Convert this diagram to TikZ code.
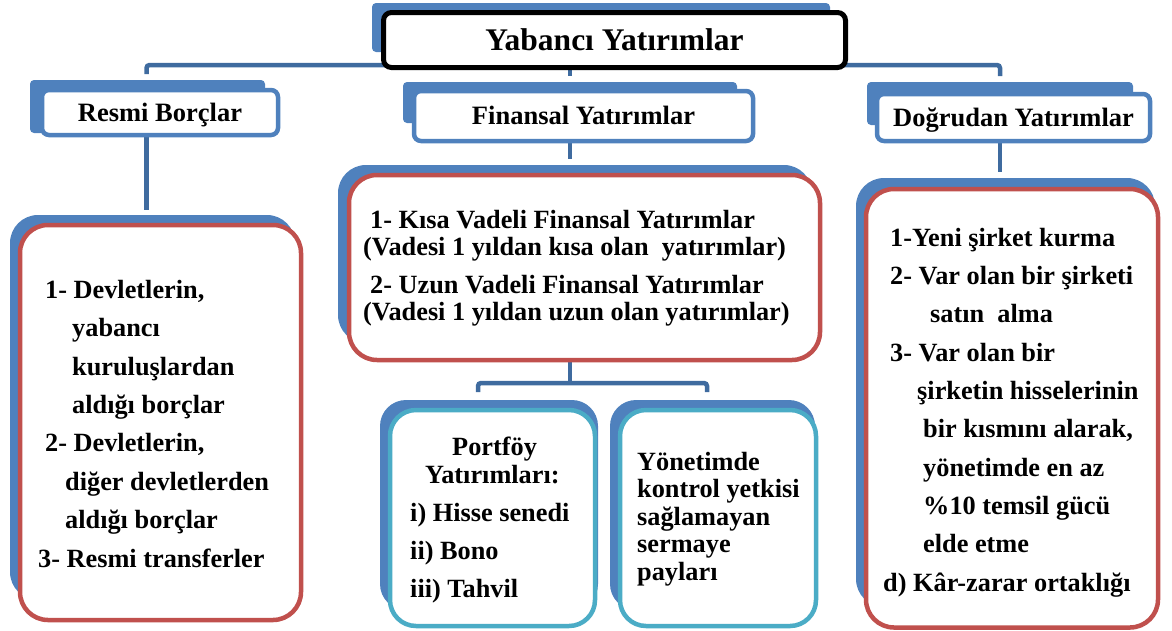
\documentclass[tikz,border=0pt]{standalone}
\usepackage{fontspec}
\setmainfont{Liberation Serif}
\definecolor{bandblue}{HTML}{4F81BD}
\definecolor{connblue}{HTML}{3F6B9F}
\definecolor{redb}{HTML}{C0504D}
\definecolor{cyanb}{HTML}{4BACC6}
\tikzset{
  conn/.style={draw=connblue, line width=4.5pt, rounded corners=3pt},
  bandbig/.style={fill=bandblue, draw=none, rounded corners=28pt, inner sep=0pt, outer sep=0pt},
  bandsmall/.style={fill=bandblue, draw=none, rounded corners=4pt, inner sep=0pt, outer sep=0pt},
  hdrbox/.style={draw=bandblue, fill=white, line width=4.5pt, rounded corners=7pt, inner sep=0pt, outer sep=0pt,
    font=\fontsize{26.5}{30}\selectfont\bfseries, text height=23.6pt, text depth=5.8pt},
  titlebox/.style={draw=black, fill=white, line width=5pt, rounded corners=8pt, inner sep=0pt, outer sep=0pt,
    font=\fontsize{31.5}{35}\selectfont\bfseries, text height=28pt, text depth=6.9pt},
  redbox/.style={draw=redb, fill=white, line width=4.5pt, rounded corners=28pt, inner sep=0pt, outer sep=0pt},
  cyanbox/.style={draw=cyanb, fill=white, line width=4.5pt, rounded corners=26pt, inner sep=0pt, outer sep=0pt},
  bodytext/.style={anchor=base west, align=left, inner sep=0pt, font=\fontsize{26.3}{#1}\selectfont\bfseries},
}
\begin{document}
\begin{tikzpicture}[x=1pt,y=-1pt]
\useasboundingbox (0,0) rectangle (1172,630);
% attachment coordinates
\coordinate (rbTop) at (146.5,74);
\coordinate (dyTop) at (1000,76);
\coordinate (fhTop) at (570,76);
\coordinate (busY) at (0,65);
\coordinate (lbTop) at (146.5,210);
\coordinate (fbTop) at (570,159);
\coordinate (dbTop) at (1000,172);
\coordinate (busB) at (570,383);
\coordinate (pfTop) at (478,392);
\coordinate (ymTop) at (707,392);
% ---------- backings ----------
\node[bandsmall, minimum width=458pt, minimum height=49pt] (tB) at (601,27.5) {};
\node[bandsmall, minimum width=235pt, minimum height=53pt] (rbB) at (147.5,106.5) {};
\node[bandsmall, minimum width=334pt, minimum height=41pt] (fhB) at (570,102.5) {};
\node[bandsmall, minimum width=266pt, minimum height=43pt] (dyB) at (1000,103.5) {};
\node[bandbig, minimum width=285pt, minimum height=385pt] (lbB) at (152.5,407.5) {};
\node[bandbig, minimum width=474pt, minimum height=178pt] (fbB) at (575,254) {};
\node[bandbig, rounded corners=26pt, minimum width=218pt, minimum height=210pt] (pfB) at (489,505) {};
\node[bandbig, rounded corners=26pt, minimum width=205pt, minimum height=210pt] (ymB) at (712.5,505) {};
\node[bandbig, minimum width=299pt, minimum height=429pt] (dbB) at (1005.5,392.5) {};
% ---------- connectors ----------
\draw[conn] (rbTop) |- (busY -| dyTop) -- (dyTop);
\draw[conn] (tB.south -| fhTop) -- (fhTop);
\draw[conn] (rbTop |- rbB.south) -- (lbTop);
\draw[conn] (fhTop |- fhB.south) -- (fbTop);
\draw[conn] (dyTop |- dyB.south) -- (dbTop);
\draw[conn] (fhTop |- fbB.south) -- (busB);
\draw[conn] (pfTop) |- (busB) -| (ymTop);
% ---------- front boxes ----------
\node[titlebox, minimum width=462pt, minimum height=55pt] (title) at (614.5,40) {Yabancı Yatırımlar};
\node[hdrbox, minimum width=236pt, minimum height=45pt] (rb) at (160,112.5) {Resmi Borçlar};
\node[hdrbox, minimum width=339pt, minimum height=50pt] (fh) at (583.5,116) {Finansal Yatırımlar};
\node[hdrbox, minimum width=273pt, minimum height=47pt] (dy) at (1013.5,117.5) {Doğrudan Yatırımlar};
\node[redbox, minimum width=281pt, minimum height=395pt] (lb) at (160.5,422.5) {};
\node[redbox, minimum width=471pt, minimum height=185pt] (fb) at (584.5,267.5) {};
\node[cyanbox, minimum width=205pt, minimum height=216pt] (pf) at (492.5,518) {};
\node[cyanbox, minimum width=196pt, minimum height=216pt] (ym) at (718,518) {};
\node[redbox, minimum width=292pt, minimum height=438.5pt] (db) at (1012,408.25) {};
% ---------- texts (base anchor = last line baseline) ----------
\node[bodytext=38.4pt] (lbT) at (38,567) {%
\hspace*{7pt}1- Devletlerin,\\
\hspace*{34pt}yabancı\\
\hspace*{34pt}kuruluşlardan\\
\hspace*{34pt}aldığı borçlar\\
\hspace*{7pt}2- Devletlerin,\\
\hspace*{27pt}diğer devletlerden\\
\hspace*{27pt}aldığı borçlar\\
3- Resmi transferler};
\node[bodytext=27pt] (fbT) at (363,320) {%
\hspace*{7pt}1- Kısa Vadeli Finansal Yatırımlar\\
(Vadesi 1 yıldan kısa olan \ yatırımlar)\\[11pt]
\hspace*{7pt}2- Uzun Vadeli Finansal Yatırımlar\\
(Vadesi 1 yıldan uzun olan yatırımlar)};
\node[bodytext=38pt] (pfT) at (410,597) {%
\hspace*{42pt}Portföy\\[-10pt]
\hspace*{15pt}Yatırımları:\\
i) Hisse senedi\\
ii) Bono\\
iii) Tahvil};
\node[bodytext=27.5pt] (ymT) at (637,580) {%
Yönetimde\\
kontrol yetkisi\\
sağlamayan\\
sermaye\\
payları};
\node[bodytext=38.3pt] (dbT) at (883,591) {%
\hspace*{7pt}1-Yeni şirket kurma\\
\hspace*{7pt}2- Var olan bir şirketi\\
\hspace*{47pt}satın \ alma\\
\hspace*{7pt}3- Var olan bir\\
\hspace*{34pt}şirketin hisselerinin\\
\hspace*{40pt}bir kısmını alarak,\\
\hspace*{40pt}yönetimde en az\\
\hspace*{40pt}\%10 temsil gücü\\
\hspace*{40pt}elde etme\\
d) Kâr-zarar ortaklığı};
\end{tikzpicture}
\end{document}
